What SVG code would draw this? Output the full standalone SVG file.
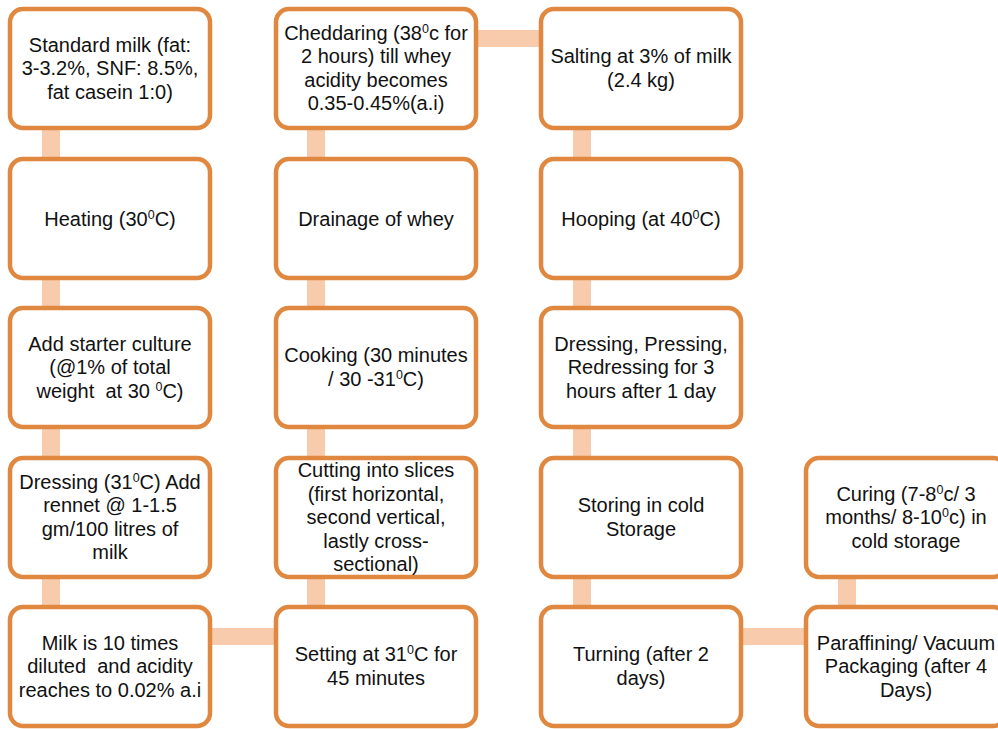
<svg xmlns="http://www.w3.org/2000/svg" width="998" height="729" viewBox="0 0 998 729">
<style>
.box{fill:#fff;stroke:#E0883F;stroke-width:4.5}
.con{fill:#F8CBAD}
text{font-family:"Liberation Sans",Arial,sans-serif;font-size:20px;fill:#111;text-anchor:middle}
.s{font-size:12.5px}
</style>
<rect width="998" height="729" fill="#fff"/>
<g id="connectors">
<rect class="con" x="42" y="126" width="18" height="35"/>
<rect class="con" x="42" y="276" width="18" height="34"/>
<rect class="con" x="42" y="425" width="18" height="35"/>
<rect class="con" x="42" y="575" width="18" height="34"/>
<rect class="con" x="307" y="126" width="18" height="35"/>
<rect class="con" x="307" y="276" width="18" height="34"/>
<rect class="con" x="307" y="425" width="18" height="35"/>
<rect class="con" x="307" y="575" width="18" height="34"/>
<rect class="con" x="573" y="126" width="18" height="35"/>
<rect class="con" x="573" y="276" width="18" height="34"/>
<rect class="con" x="573" y="425" width="18" height="35"/>
<rect class="con" x="573" y="575" width="18" height="34"/>
<rect class="con" x="838" y="575" width="18" height="34"/>
<rect class="con" x="474" y="30" width="69" height="17"/>
<rect class="con" x="208" y="628" width="70" height="17"/>
<rect class="con" x="740" y="628" width="68" height="17"/>
</g>
<g id="n1"><rect class="box" x="10" y="9" width="200" height="119" rx="13"/>
<text x="110" y="51.5">Standard milk (fat:</text><text x="110" y="75">3-3.2%, SNF: 8.5%,</text><text x="110" y="98.5">fat casein 1:0)</text></g>
<g id="n2"><rect class="box" x="10" y="159" width="200" height="119" rx="13"/>
<text x="110" y="225.5">Heating (30<tspan class="s" dy="-7">0</tspan><tspan dy="7">C)</tspan></text></g>
<g id="n3"><rect class="box" x="10" y="308" width="200" height="119" rx="13"/>
<text x="110" y="350.5">Add starter culture</text><text x="110" y="374">(@1% of total</text><text x="110" y="397.5" xml:space="preserve">weight  at 30 <tspan class="s" dy="-7">0</tspan><tspan dy="7">C)</tspan></text></g>
<g id="n4"><rect class="box" x="10" y="458" width="200" height="119" rx="13"/>
<text x="110" y="488.75">Dressing (31<tspan class="s" dy="-7">0</tspan><tspan dy="7">C) Add</tspan></text><text x="110" y="512.25">rennet @ 1-1.5</text><text x="110" y="535.75">gm/100 litres of</text><text x="110" y="559.25">milk</text></g>
<g id="n5"><rect class="box" x="10" y="607" width="200" height="119" rx="13"/>
<text x="110" y="649.5">Milk is 10 times</text><text x="110" y="673" xml:space="preserve">diluted  and acidity</text><text x="110" y="696.5">reaches to 0.02% a.i</text></g>
<g id="n6"><rect class="box" x="276" y="607" width="200" height="119" rx="13"/>
<text x="376" y="661.25">Setting at 31<tspan class="s" dy="-7">0</tspan><tspan dy="7">C for</tspan></text><text x="376" y="684.75">45 minutes</text></g>
<g id="n7"><rect class="box" x="276" y="458" width="200" height="119" rx="13"/>
<text x="376" y="477">Cutting into slices</text><text x="376" y="500.5">(first horizontal,</text><text x="376" y="524">second vertical,</text><text x="376" y="547.5">lastly cross-</text><text x="376" y="571">sectional)</text></g>
<g id="n8"><rect class="box" x="276" y="308" width="200" height="119" rx="13"/>
<text x="376" y="362.25">Cooking (30 minutes</text><text x="376" y="385.75">/ 30 -31<tspan class="s" dy="-7">0</tspan><tspan dy="7">C)</tspan></text></g>
<g id="n9"><rect class="box" x="276" y="159" width="200" height="119" rx="13"/>
<text x="376" y="225.5">Drainage of whey</text></g>
<g id="n10"><rect class="box" x="276" y="9" width="200" height="119" rx="13"/>
<text x="376" y="39.75">Cheddaring (38<tspan class="s" dy="-7">0</tspan><tspan dy="7">c for</tspan></text><text x="376" y="63.25">2 hours) till whey</text><text x="376" y="86.75">acidity becomes</text><text x="376" y="110.25">0.35-0.45%(a.i)</text></g>
<g id="n11"><rect class="box" x="541" y="9" width="200" height="119" rx="13"/>
<text x="641" y="63.25">Salting at 3% of milk</text><text x="641" y="86.75">(2.4 kg)</text></g>
<g id="n12"><rect class="box" x="541" y="159" width="200" height="119" rx="13"/>
<text x="641" y="225.5">Hooping (at 40<tspan class="s" dy="-7">0</tspan><tspan dy="7">C)</tspan></text></g>
<g id="n13"><rect class="box" x="541" y="308" width="200" height="119" rx="13"/>
<text x="641" y="350.5">Dressing, Pressing,</text><text x="641" y="374">Redressing for 3</text><text x="641" y="397.5">hours after 1 day</text></g>
<g id="n14"><rect class="box" x="541" y="458" width="200" height="119" rx="13"/>
<text x="641" y="512.25">Storing in cold</text><text x="641" y="535.75">Storage</text></g>
<g id="n15"><rect class="box" x="541" y="607" width="200" height="119" rx="13"/>
<text x="641" y="661.25">Turning (after 2</text><text x="641" y="684.75">days)</text></g>
<g id="n16"><rect class="box" x="806" y="607" width="200" height="119" rx="13"/>
<text x="906" y="649.5">Paraffining/ Vacuum</text><text x="906" y="673">Packaging (after 4</text><text x="906" y="696.5">Days)</text></g>
<g id="n17"><rect class="box" x="806" y="458" width="200" height="119" rx="13"/>
<text x="906" y="500.5">Curing (7-8<tspan class="s" dy="-7">0</tspan><tspan dy="7">c/ 3</tspan></text><text x="906" y="524">months/ 8-10<tspan class="s" dy="-7">0</tspan><tspan dy="7">c) in</tspan></text><text x="906" y="547.5">cold storage</text></g>
</svg>
